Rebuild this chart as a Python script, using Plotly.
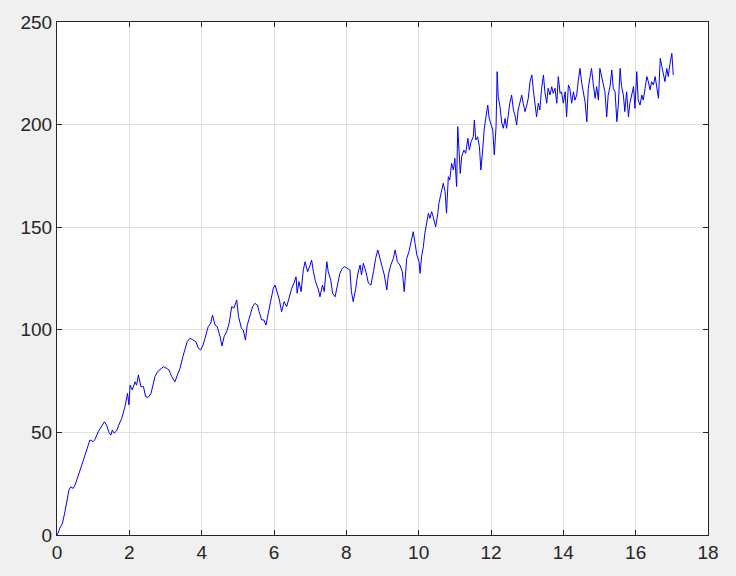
import plotly.graph_objects as go

# values
t_vals = [
    0, 0.02, 0.08, 0.15, 0.22, 0.28, 0.33, 0.38, 0.45, 0.5, 0.54, 0.64, 0.73, 0.82, 0.91, 1.0,
    1.05, 1.14, 1.24, 1.31, 1.37, 1.44, 1.49, 1.53, 1.58, 1.65, 1.71, 1.79, 1.88, 1.95, 1.99,
    2.02, 2.08, 2.16, 2.2, 2.25, 2.32, 2.39, 2.45, 2.52, 2.6, 2.66, 2.71, 2.78, 2.88,
    2.94, 3.03, 3.1, 3.17, 3.26, 3.33, 3.4, 3.48, 3.54, 3.6, 3.68, 3.77, 3.84, 3.91, 3.97,
    4.04, 4.12, 4.18, 4.25, 4.3, 4.37, 4.43, 4.51, 4.56, 4.62, 4.69, 4.76, 4.83, 4.89, 4.97,
    5.02, 5.1, 5.15, 5.21, 5.26, 5.34, 5.41, 5.47, 5.54, 5.59, 5.66, 5.72, 5.78, 5.84, 5.91,
    5.98, 6.03, 6.09, 6.15, 6.21, 6.28, 6.35, 6.42, 6.49, 6.55, 6.61, 6.64,
    6.69, 6.75, 6.81, 6.86, 6.93, 7.0, 7.04, 7.09, 7.15, 7.23, 7.27, 7.34, 7.39, 7.46, 7.5,
    7.57, 7.62, 7.69, 7.75, 7.82, 7.89, 7.96, 8.02, 8.1, 8.14, 8.19, 8.26, 8.31, 8.38, 8.42,
    8.47, 8.54, 8.61, 8.68, 8.75, 8.81, 8.87, 8.93, 8.99, 9.05, 9.12, 9.16, 9.23, 9.3, 9.35,
    9.41, 9.48, 9.55, 9.6, 9.67, 9.73, 9.79, 9.85, 9.9, 9.95,
    10.01, 10.04, 10.08, 10.13, 10.17, 10.22, 10.27, 10.31, 10.36, 10.4, 10.47, 10.53, 10.56,
    10.62, 10.68, 10.73, 10.77, 10.82, 10.86, 10.91, 10.96, 11.0, 11.05, 11.08, 11.12, 11.15,
    11.19, 11.25, 11.3, 11.36, 11.4, 11.45, 11.51, 11.54, 11.58, 11.63, 11.68, 11.72, 11.77,
    11.81, 11.86, 11.91, 11.95, 12.0, 12.05, 12.09, 12.14, 12.17, 12.2,
    12.25, 12.3, 12.34, 12.39, 12.43, 12.48, 12.52, 12.57, 12.62, 12.66, 12.71, 12.75, 12.8,
    12.85, 12.89, 12.94, 12.99, 13.03, 13.08, 13.13, 13.17, 13.22, 13.26, 13.31, 13.35, 13.4,
    13.45, 13.49, 13.54, 13.58, 13.63, 13.68, 13.72, 13.77, 13.82, 13.86, 13.91, 13.95, 14.0,
    14.05, 14.09, 14.14, 14.18, 14.23, 14.28, 14.32, 14.37, 14.41, 14.46, 14.51, 14.55, 14.6,
    14.65, 14.69, 14.74, 14.78, 14.83, 14.88, 14.92, 14.97, 15.01, 15.06, 15.11, 15.15, 15.2,
    15.24, 15.29, 15.34, 15.38, 15.43, 15.48, 15.52, 15.57, 15.61, 15.66, 15.7, 15.75, 15.8,
    15.84, 15.89, 15.94, 15.98, 16.03, 16.07, 16.12, 16.17, 16.21, 16.26, 16.31, 16.35, 16.4,
    16.44, 16.49, 16.54, 16.58, 16.63, 16.68, 16.72, 16.77, 16.81, 16.86, 16.9, 16.95, 17.0,
    17.04,
]

y_vals = [
    0, 0.5, 3.4, 5.7, 11.4, 17, 21.9, 23.5, 22.7, 24.4, 26.8, 31.7, 36.5, 41.4, 46.3, 45.5,
    46.6, 50.3, 53.6, 55.2, 53.6, 49.9, 48.7, 51.2, 49.6, 50.8, 53.6, 56.9, 62.5, 69, 63.4,
    73, 70.7, 74.7, 73, 78, 72.3, 72.3, 67.4, 67.1, 69, 73.9, 77.2, 79.6, 81.2,
    82, 81.2, 80.4, 77.2, 74.7, 78, 81.2, 86.9, 91, 94.2, 95.9, 95, 94.2, 91, 90.2,
    92.6, 98.3, 101.5, 103.2, 107.2, 102.3, 101.5, 96.6, 92.1, 96.6, 99.1, 103.2, 111.3, 110.5, 114.5,
    106.4, 100.7, 99.9, 95, 102.3, 107.2, 111.3, 112.9, 112.1, 108.8, 104.8, 104.8, 102.3, 108, 114.5,
    120.2, 121.8, 118.6, 114.5, 108.8, 113.7, 111.3, 116.1, 120.2, 122.7, 125.9, 117.8,
    123.5, 118.6, 129.1, 133.2, 128.3, 131.6, 134, 128.3, 123.5, 119.4, 116.1, 121.8, 118.6, 133.2, 128.3,
    124.3, 117.8, 116.1, 121, 127.5, 130, 130.8, 130, 129.1, 118.6, 113.7, 120.2, 126.7, 131.6, 126.7,
    132.4, 128.3, 122.7, 121.8, 128.3, 134.8, 138.9, 134.8, 130, 126.7, 119.4, 126.7, 131.6, 134.8, 138.9,
    133.2, 131.6, 128.3, 118.6, 134.8, 138, 142.9, 147.8, 142.1, 136.4,
    133.2, 127.5, 135.6, 140.5, 147, 151.9, 156.8, 154.3, 157.6, 155.1, 150.2, 156.8, 161.7,
    166.6, 171.4, 167.4, 156.8, 174.6, 173, 181.1, 177.9, 183.6, 169.8, 199, 182.7, 176.2,
    184.4, 187.6, 186, 193.3, 187.6, 191.7, 194.1, 202.2, 192.5, 194.1, 189.2, 177.9, 187.6,
    197.3, 203.8, 209.5, 203, 200.6, 197.3, 185.2, 199, 225.8, 213.6,
    208.7, 200.6, 198.2, 203, 198.2, 206.3, 210.4, 214.4, 207.1, 204.7, 199.8, 207.1, 211.2,
    214.4, 210.4, 206.3, 209.5, 212.8, 220.9, 224.2, 216.9, 209.5, 203.8, 210.4, 207.1, 217.7,
    224.2, 216, 210.4, 217.7, 214.4, 218.5, 215.2, 217.7, 210.4, 223.4, 215.2, 216, 210.4,
    216, 203.8, 219.3, 217.7, 210.4, 216, 211.9, 214.4, 220.9, 227.4, 220.1, 215.2, 211.2,
    201.4, 217.7, 223.4, 227.4, 219.3, 212.8, 218.5, 211.9, 227.4, 223.4, 219.3, 216, 203.8,
    214.4, 218.5, 226.6, 217.7, 216, 201.4, 209.5, 227.4, 218.5, 214.4, 206.3, 216, 203.8,
    210.4, 214.4, 218.5, 207.9, 225.8, 211.9, 209.5, 214.4, 211.9, 217.7, 223.4, 220.9, 216.9,
    220.9, 219.3, 223.4, 217.7, 212.8, 232.3, 228.2, 224.2, 220.9, 227.4, 223.4, 229.8, 234.7,
    224.2,
]

x_ticks = [0, 2, 4, 6, 8, 10, 12, 14, 16, 18]
y_ticks = [0, 50, 100, 150, 200, 250]

fig = go.Figure()
fig.add_trace(go.Scatter(x=t_vals, y=y_vals, mode='lines',
                         line=dict(color='#0000ff', width=1)))

axis_style = dict(showline=True, linecolor='#262626', linewidth=1, mirror='ticks',
                  ticks='inside', ticklen=5, tickcolor='#262626',
                  showgrid=True, gridcolor='#dfdfdf', gridwidth=1, zeroline=False,
                  tickfont=dict(family='Liberation Sans, Arial', size=19, color='#262626'))

fig.update_layout(
    width=736, height=576,
    paper_bgcolor='#f0f0f0', plot_bgcolor='white',
    margin=dict(l=57, r=28, t=22, b=41),
    showlegend=False,
)
fig.update_xaxes(range=[0, 18], tickvals=x_ticks, **axis_style)
fig.update_yaxes(range=[0, 250], tickvals=y_ticks, **axis_style)

# drop the page's default body margin so the figure sits at the window corner
fig.write_html("out.html", config={'displayModeBar': False},
               post_script="document.body.style.margin='0';document.body.style.background='#f0f0f0';")
